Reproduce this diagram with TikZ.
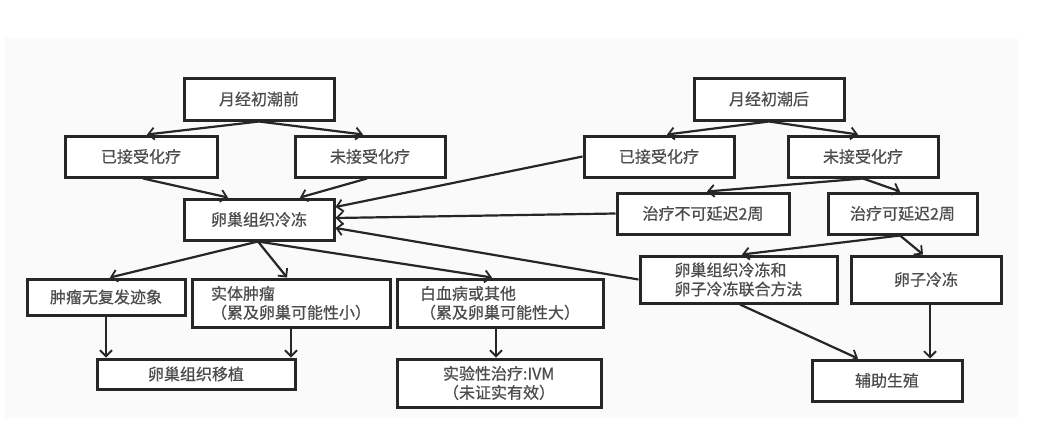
\documentclass[tikz,border=0pt]{standalone}
\usepackage{fontspec}
\newfontfamily\cjk{Noto Sans CJK SC}[FakeBold=0.6]
\usetikzlibrary{arrows.meta}
\begin{document}
\begin{tikzpicture}[x=1pt,y=-1pt,
  box/.style={draw=black!85,line width=3pt,fill=white,inner sep=0pt,
    text=black!70,font=\cjk\fontsize{16}{19}\selectfont,align=left},
  arr/.style={draw=black!85,line width=2.2pt,-{Straight Barb[length=6pt,width=12pt,line width=1.8pt]}}]
\useasboundingbox (0,0) rectangle (1063,445);
\fill[black!2] (5,38) rectangle (1018,418);
% left tree
\node[box,minimum width=150,minimum height=42] (pre) at (259,99) {月经初潮前};
\node[box,minimum width=152,minimum height=41] (ljl) at (141,156.5) {已接受化疗};
\node[box,minimum width=150,minimum height=41] (lwj) at (370,156.5) {未接受化疗};
\node[box,minimum width=150,minimum height=41] (frz) at (259,219.5) {卵巢组织冷冻};
\node[box,minimum width=158,minimum height=36] (norec) at (106,297) {肿瘤无复发迹象};
\node[box,minimum width=198,minimum height=48] (solid) at (291,303) {实体肿瘤\\（累及卵巢可能性小）};
\node[box,minimum width=206,minimum height=48] (leuk) at (500,303) {白血病或其他\\（累及卵巢可能性大）};
\node[box,minimum width=198,minimum height=30] (trans) at (196,374) {卵巢组织移植};
\node[box,minimum width=204,minimum height=48] (ivm) at (499,383) {实验性治疗:IVM\\（未证实有效）};
% right tree
\node[box,minimum width=150,minimum height=42] (post) at (769,99) {月经初潮后};
\node[box,minimum width=150,minimum height=41] (rjl) at (659,156.5) {已接受化疗};
\node[box,minimum width=150,minimum height=41] (rwj) at (863,156.5) {未接受化疗};
\node[box,minimum width=172,minimum height=41] (nodelay) at (703,213.5) {治疗不可延迟2周};
\node[box,minimum width=149,minimum height=41] (delay) at (902.5,213.5) {治疗可延迟2周};
\node[box,minimum width=197,minimum height=47] (comb) at (738.5,279.5) {卵巢组织冷冻和\\卵子冷冻联合方法};
\node[box,minimum width=150,minimum height=47] (egg) at (926,279.5) {卵子冷冻};
\node[box,minimum width=150,minimum height=41] (art) at (887,380.5) {辅助生殖};
% arrows left
\draw[arr] (pre.south) -- ([xshift=6pt]ljl.north);
\draw[arr] (pre.south) -- ([xshift=-7pt]lwj.north);
\draw[arr] ([xshift=2pt]ljl.south) -- ([xshift=-31pt]frz.north);
\draw[arr] ([xshift=-3pt]lwj.south) -- ([xshift=41pt]frz.north);
\draw[arr] ([xshift=-1pt]frz.south) -- ([xshift=4pt]norec.north);
\draw[arr] ([xshift=-1pt]frz.south) -- ([xshift=-4pt]solid.north);
\draw[arr] ([xshift=-1pt]frz.south) -- ([xshift=-8pt]leuk.north);
\draw[arr] (norec.south) -- (norec.south |- trans.north);
\draw[arr] (solid.south) -- (solid.south |- trans.north);
\draw[arr] ([xshift=-4pt]leuk.south) -- ([xshift=-3pt]ivm.north);
% arrows right
\draw[arr] (post.south) -- ([xshift=8pt]rjl.north);
\draw[arr] (post.south) -- ([xshift=-5pt]rwj.north);
\draw[arr] (rjl.west) -- ([yshift=12.5pt]frz.east);
\draw[arr] (nodelay.west) -- ([yshift=1.5pt]frz.east);
\draw[arr] (comb.west) -- ([yshift=-8.5pt]frz.east);
\draw[arr] (rwj.south) -- ([xshift=4pt]nodelay.north);
\draw[arr] (rwj.south) -- ([xshift=-2.5pt]delay.north);
\draw[arr] ([xshift=-2.5pt]delay.south) -- ([xshift=3.5pt]comb.north);
\draw[arr] ([xshift=-2.5pt]delay.south) -- ([xshift=-3pt]egg.north);
\draw[arr] ([xshift=1.5pt]comb.south) -- ([xshift=-29pt]art.north);
\draw[arr] ([xshift=4pt]egg.south) -- ([xshift=4pt]egg.south |- art.north);
\end{tikzpicture}
\end{document}
